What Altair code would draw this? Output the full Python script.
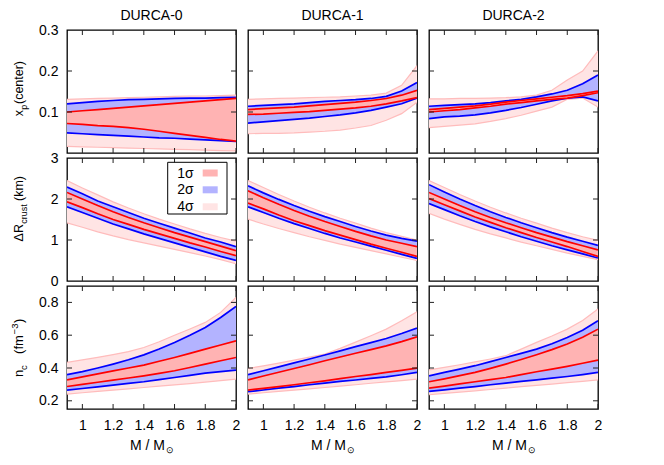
import altair as alt
import pandas as pd

# ---------------- data ----------------
M = [0.9, 1.0, 1.1, 1.2, 1.3, 1.4, 1.5, 1.6, 1.7, 1.8, 1.9, 2.0]
COLUMN_TITLES = ["DURCA-0", "DURCA-1", "DURCA-2"]
X_TICKS = [1.0, 1.2, 1.4, 1.6, 1.8, 2.0]
ROW_Y_TICKS = [[0.1, 0.2], [1, 2], [0.2, 0.4, 0.6, 0.8]]
ROW_Y_LABELS = [[0.1, 0.2, 0.3], [0, 1, 2, 3], [0.2, 0.4, 0.6, 0.8]]
ROW_Y_DOMAIN = [[0, 0.3], [0, 3], [0.15, 0.9]]
LEGEND_LABELS = ["1σ", "2σ", "4σ"]

# x_p(center)
XP_D0_LO4 = [0.016, 0.015, 0.014, 0.013, 0.012, 0.011, 0.010, 0.009, 0.008, 0.007, 0.006, 0.005]
XP_D0_HI4 = [0.131, 0.132, 0.133, 0.134, 0.135, 0.136, 0.137, 0.138, 0.139, 0.139, 0.140, 0.141]
XP_D0_LO2 = [0.049, 0.047, 0.045, 0.043, 0.041, 0.039, 0.037, 0.036, 0.034, 0.032, 0.030, 0.028]
XP_D0_HI2 = [0.120, 0.123, 0.126, 0.128, 0.130, 0.131, 0.132, 0.133, 0.134, 0.134, 0.135, 0.136]
XP_D0_LO1 = [0.072, 0.070, 0.067, 0.065, 0.062, 0.058, 0.053, 0.048, 0.043, 0.038, 0.033, 0.029]
XP_D0_HI1 = [0.100, 0.103, 0.106, 0.109, 0.112, 0.115, 0.118, 0.121, 0.124, 0.127, 0.130, 0.133]

XP_D1_LO4 = [0.047, 0.048, 0.048, 0.049, 0.051, 0.053, 0.056, 0.061, 0.067, 0.080, 0.096, 0.124]
XP_D1_HI4 = [0.131, 0.132, 0.133, 0.134, 0.135, 0.136, 0.137, 0.139, 0.141, 0.146, 0.165, 0.213]
XP_D1_LO2 = [0.073, 0.076, 0.079, 0.082, 0.085, 0.089, 0.093, 0.098, 0.104, 0.112, 0.120, 0.134]
XP_D1_HI2 = [0.114, 0.116, 0.118, 0.120, 0.123, 0.126, 0.128, 0.130, 0.133, 0.138, 0.151, 0.172]
XP_D1_LO1 = [0.094, 0.095, 0.097, 0.099, 0.101, 0.104, 0.107, 0.110, 0.114, 0.120, 0.127, 0.135]
XP_D1_HI1 = [0.106, 0.108, 0.110, 0.112, 0.115, 0.118, 0.121, 0.124, 0.128, 0.133, 0.141, 0.153]

XP_D2_LO4 = [0.062, 0.065, 0.068, 0.071, 0.077, 0.084, 0.092, 0.102, 0.112, 0.131, 0.134, 0.112]
XP_D2_HI4 = [0.132, 0.132, 0.133, 0.133, 0.134, 0.135, 0.137, 0.141, 0.153, 0.178, 0.200, 0.249]
XP_D2_LO2 = [0.084, 0.088, 0.090, 0.093, 0.098, 0.104, 0.111, 0.119, 0.127, 0.134, 0.137, 0.127]
XP_D2_HI2 = [0.114, 0.116, 0.118, 0.120, 0.123, 0.127, 0.131, 0.137, 0.144, 0.153, 0.169, 0.190]
XP_D2_LO1 = [0.100, 0.103, 0.106, 0.110, 0.114, 0.119, 0.123, 0.127, 0.131, 0.134, 0.140, 0.147]
XP_D2_HI1 = [0.106, 0.109, 0.112, 0.115, 0.119, 0.124, 0.128, 0.132, 0.136, 0.140, 0.145, 0.151]

# Delta R_crust (km)
DR_D0_LO4 = [1.42, 1.31, 1.20, 1.10, 1.01, 0.93, 0.85, 0.77, 0.69, 0.61, 0.52, 0.42]
DR_D0_HI4 = [2.45, 2.27, 2.10, 1.93, 1.78, 1.64, 1.51, 1.39, 1.27, 1.16, 1.06, 0.97]
DR_D0_LO2 = [1.81, 1.67, 1.53, 1.39, 1.27, 1.15, 1.04, 0.93, 0.82, 0.71, 0.60, 0.50]
DR_D0_HI2 = [2.29, 2.13, 1.95, 1.81, 1.67, 1.53, 1.41, 1.29, 1.17, 1.05, 0.95, 0.84]
DR_D0_LO1 = [1.93, 1.79, 1.64, 1.50, 1.38, 1.26, 1.15, 1.04, 0.93, 0.83, 0.72, 0.62]
DR_D0_HI1 = [2.16, 2.00, 1.84, 1.69, 1.55, 1.42, 1.30, 1.18, 1.07, 0.96, 0.85, 0.74]

DR_D1_LO4 = [1.51, 1.39, 1.28, 1.18, 1.08, 0.99, 0.90, 0.82, 0.74, 0.66, 0.58, 0.50]
DR_D1_HI4 = [2.45, 2.28, 2.11, 1.95, 1.80, 1.66, 1.53, 1.41, 1.29, 1.18, 1.09, 1.00]
DR_D1_LO2 = [1.81, 1.67, 1.53, 1.40, 1.28, 1.16, 1.05, 0.95, 0.85, 0.75, 0.65, 0.55]
DR_D1_HI2 = [2.32, 2.15, 1.99, 1.84, 1.70, 1.57, 1.45, 1.33, 1.22, 1.12, 1.04, 0.97]
DR_D1_LO1 = [1.90, 1.76, 1.61, 1.47, 1.35, 1.23, 1.12, 1.01, 0.90, 0.80, 0.70, 0.60]
DR_D1_HI1 = [2.20, 2.03, 1.87, 1.72, 1.58, 1.45, 1.33, 1.21, 1.10, 1.00, 0.92, 0.84]

DR_D2_LO4 = [1.65, 1.51, 1.38, 1.26, 1.15, 1.05, 0.95, 0.86, 0.77, 0.68, 0.60, 0.52]
DR_D2_HI4 = [2.45, 2.28, 2.11, 1.95, 1.80, 1.66, 1.53, 1.41, 1.29, 1.18, 1.08, 0.99]
DR_D2_LO2 = [1.89, 1.74, 1.59, 1.45, 1.32, 1.20, 1.08, 0.97, 0.86, 0.76, 0.66, 0.56]
DR_D2_HI2 = [2.35, 2.17, 2.00, 1.84, 1.69, 1.55, 1.42, 1.30, 1.18, 1.07, 0.97, 0.87]
DR_D2_LO1 = [2.01, 1.86, 1.71, 1.56, 1.43, 1.30, 1.18, 1.06, 0.95, 0.84, 0.72, 0.60]
DR_D2_HI1 = [2.16, 2.00, 1.84, 1.69, 1.55, 1.42, 1.30, 1.18, 1.07, 0.96, 0.86, 0.76]

# n_c (fm^-3)
NC_D0_LO4 = [0.241, 0.249, 0.257, 0.265, 0.273, 0.281, 0.289, 0.297, 0.305, 0.314, 0.323, 0.332]
NC_D0_HI4 = [0.434, 0.449, 0.465, 0.482, 0.500, 0.525, 0.560, 0.600, 0.638, 0.678, 0.739, 0.830]
NC_D0_LO2 = [0.265, 0.275, 0.285, 0.295, 0.306, 0.316, 0.329, 0.342, 0.355, 0.369, 0.378, 0.387]
NC_D0_HI2 = [0.359, 0.378, 0.400, 0.424, 0.450, 0.480, 0.516, 0.556, 0.600, 0.647, 0.708, 0.776]
NC_D0_LO1 = [0.287, 0.300, 0.313, 0.326, 0.339, 0.352, 0.367, 0.383, 0.403, 0.424, 0.444, 0.464]
NC_D0_HI1 = [0.328, 0.346, 0.364, 0.382, 0.400, 0.418, 0.441, 0.464, 0.489, 0.515, 0.540, 0.566]

NC_D1_LO4 = [0.241, 0.249, 0.257, 0.265, 0.273, 0.281, 0.290, 0.298, 0.307, 0.315, 0.323, 0.332]
NC_D1_HI4 = [0.397, 0.413, 0.430, 0.448, 0.466, 0.485, 0.520, 0.558, 0.597, 0.637, 0.688, 0.743]
NC_D1_LO2 = [0.255, 0.266, 0.277, 0.287, 0.298, 0.308, 0.318, 0.327, 0.337, 0.346, 0.359, 0.373]
NC_D1_HI2 = [0.359, 0.383, 0.407, 0.431, 0.455, 0.479, 0.504, 0.530, 0.555, 0.580, 0.610, 0.643]
NC_D1_LO1 = [0.265, 0.276, 0.287, 0.298, 0.310, 0.322, 0.335, 0.348, 0.360, 0.373, 0.386, 0.399]
NC_D1_HI1 = [0.328, 0.351, 0.374, 0.397, 0.420, 0.444, 0.467, 0.490, 0.512, 0.535, 0.561, 0.590]

NC_D2_LO4 = [0.237, 0.245, 0.253, 0.261, 0.269, 0.277, 0.286, 0.294, 0.302, 0.311, 0.319, 0.328]
NC_D2_HI4 = [0.389, 0.404, 0.420, 0.437, 0.455, 0.475, 0.515, 0.556, 0.595, 0.637, 0.690, 0.760]
NC_D2_LO2 = [0.257, 0.267, 0.277, 0.287, 0.298, 0.308, 0.318, 0.328, 0.338, 0.348, 0.360, 0.373]
NC_D2_HI2 = [0.352, 0.373, 0.393, 0.414, 0.439, 0.464, 0.489, 0.515, 0.548, 0.586, 0.630, 0.688]
NC_D2_LO1 = [0.277, 0.290, 0.303, 0.316, 0.329, 0.342, 0.360, 0.377, 0.393, 0.410, 0.429, 0.448]
NC_D2_HI1 = [0.316, 0.334, 0.353, 0.373, 0.398, 0.424, 0.452, 0.481, 0.512, 0.546, 0.588, 0.637]

PANEL_DATA = [
    [(XP_D0_LO4, XP_D0_HI4, XP_D0_LO2, XP_D0_HI2, XP_D0_LO1, XP_D0_HI1),
     (XP_D1_LO4, XP_D1_HI4, XP_D1_LO2, XP_D1_HI2, XP_D1_LO1, XP_D1_HI1),
     (XP_D2_LO4, XP_D2_HI4, XP_D2_LO2, XP_D2_HI2, XP_D2_LO1, XP_D2_HI1)],
    [(DR_D0_LO4, DR_D0_HI4, DR_D0_LO2, DR_D0_HI2, DR_D0_LO1, DR_D0_HI1),
     (DR_D1_LO4, DR_D1_HI4, DR_D1_LO2, DR_D1_HI2, DR_D1_LO1, DR_D1_HI1),
     (DR_D2_LO4, DR_D2_HI4, DR_D2_LO2, DR_D2_HI2, DR_D2_LO1, DR_D2_HI1)],
    [(NC_D0_LO4, NC_D0_HI4, NC_D0_LO2, NC_D0_HI2, NC_D0_LO1, NC_D0_HI1),
     (NC_D1_LO4, NC_D1_HI4, NC_D1_LO2, NC_D1_HI2, NC_D1_LO1, NC_D1_HI1),
     (NC_D2_LO4, NC_D2_HI4, NC_D2_LO2, NC_D2_HI2, NC_D2_LO1, NC_D2_HI1)],
]

# ---------------- styling ----------------
W, H = 169, 123
FONT = "Liberation Sans"
FS = 14
FILL1, FILL2, FILL4 = "#ffb3b3", "#b3b3ff", "#ffe4e4"
LINE1, LINE2, LINE4 = "#ff0000", "#0000ff", "#ffbcbc"
TICK_LEN = 5

# rotated y-title pieces: (text, font size, baseline x rel. to plot left, centre y rel. to plot top)
YTITLE_PIECES = [
    [("x", 12.5, -44, 83.0), ("p", 9, -40.5, 77.3), ("(center)", 12.5, -44, 52.5)],
    [("ΔR", 12.5, -44, 74.7), ("crust", 9, -40.5, 56.0), ("(km)", 12.5, -44, 30.5)],
    [("n", 13, -44, 87.5), ("c", 9.5, -40.5, 81.6), ("(fm", 13, -44, 58.5), ("−3", 9.5, -49, 43.0), (")", 13, -44, 34.8)],
]
XTITLE_PIECES = [("M / M", FS, 63, 164), ("⊙", 9, 98.5, 167)]

DUMMY = pd.DataFrame({"k": [0]})


def text_piece(txt, fs, x, y, angle=0, align="left", baseline="alphabetic"):
    kw = dict(text=txt, font=FONT, fontSize=fs, align=align, baseline=baseline, color="black")
    if angle:
        kw["angle"] = angle
    return alt.Chart(DUMMY).mark_text(**kw).encode(x=alt.value(x), y=alt.value(y))


def panel(r, c):
    lo4, hi4, lo2, hi2, lo1, hi1 = PANEL_DATA[r][c]
    df = pd.DataFrame({"M": M, "lo4": lo4, "hi4": hi4, "lo2": lo2,
                       "hi2": hi2, "lo1": lo1, "hi1": hi1})
    xscale = alt.Scale(domain=[0.9, 2.0], nice=False, zero=False)
    yscale = alt.Scale(domain=ROW_Y_DOMAIN[r], nice=False, zero=False)
    common_axis = dict(ticks=False, tickSize=0, domain=False, grid=False, labelFont=FONT,
                       labelFontSize=FS, labelColor="black", labelOverlap=False,
                       labelFlush=False, format="~g")
    xaxis = alt.Axis(values=X_TICKS, labelPadding=9, **common_axis) if r == 2 else None
    yaxis = alt.Axis(values=ROW_Y_LABELS[r], labelPadding=9, **common_axis) if c == 0 else None

    def X(f):
        return alt.X(f"{f}:Q", scale=xscale, axis=xaxis, title=None)

    def Y(f):
        return alt.Y(f"{f}:Q", scale=yscale, axis=yaxis, title=None)

    base = alt.Chart(df)
    layers = []
    for lo, hi, fill, line, lw in [("lo4", "hi4", FILL4, LINE4, 1.2),
                                   ("lo2", "hi2", FILL2, LINE2, 1.7),
                                   ("lo1", "hi1", FILL1, LINE1, 1.7)]:
        layers.append(base.mark_area(color=fill, opacity=1, clip=True)
                      .encode(x=X("M"), y=Y(lo), y2=alt.Y2(hi)))
        layers.append(base.mark_line(color=line, strokeWidth=lw, clip=True)
                      .encode(x=X("M"), y=Y(lo)))
        layers.append(base.mark_line(color=line, strokeWidth=lw, clip=True)
                      .encode(x=X("M"), y=Y(hi)))

    xt = alt.Chart(pd.DataFrame({"t": X_TICKS}))
    yt = alt.Chart(pd.DataFrame({"t": ROW_Y_TICKS[r]}))
    tick = dict(color="#222222", strokeWidth=1)
    layers.append(xt.mark_rule(**tick).encode(x=X("t"), y=alt.value(0), y2=alt.value(TICK_LEN)))
    layers.append(xt.mark_rule(**tick).encode(x=X("t"), y=alt.value(H), y2=alt.value(H - TICK_LEN)))
    layers.append(yt.mark_rule(**tick).encode(y=Y("t"), x=alt.value(0), x2=alt.value(TICK_LEN)))
    layers.append(yt.mark_rule(**tick).encode(y=Y("t"), x=alt.value(W), x2=alt.value(W - TICK_LEN)))

    if c == 0:
        for txt, fs, x, y in YTITLE_PIECES[r]:
            layers.append(text_piece(txt, fs, x, y, angle=270, align="center"))
    if r == 2:
        for txt, fs, x, y in XTITLE_PIECES:
            layers.append(text_piece(txt, fs, x, y))
    if r == 0:
        layers.append(text_piece(COLUMN_TITLES[c], FS, W / 2, -9.7, align="center"))

    if r == 1 and c == 0:
        # legend box
        layers.append(alt.Chart(DUMMY).mark_rect(fill="white", stroke="black", strokeWidth=1)
                      .encode(x=alt.value(100.7), x2=alt.value(160), y=alt.value(4.3), y2=alt.value(56)))
        for lab, fill, yc in zip(LEGEND_LABELS, [FILL1, FILL2, FILL4], [15, 31.8, 48.8]):
            layers.append(text_piece(lab, FS, 126.7, yc + 0.5, align="right", baseline="middle"))
            layers.append(alt.Chart(DUMMY).mark_rect(fill=fill)
                          .encode(x=alt.value(135.7), x2=alt.value(150.7),
                                  y=alt.value(yc - 3.5), y2=alt.value(yc + 3.5)))

    return alt.layer(*layers).properties(width=W, height=H)


panels = [panel(r, c) for r in range(3) for c in range(3)]
chart = (
    alt.concat(*panels, columns=3, spacing={"row": 5, "column": 12}, bounds="flush")
    .properties(padding={"left": 1, "top": 0, "right": 5, "bottom": 5}, background="white")
    .configure_view(stroke="black", strokeWidth=1.3)
)

chart.save("out.html", embed_options={"renderer": "svg", "actions": False})
